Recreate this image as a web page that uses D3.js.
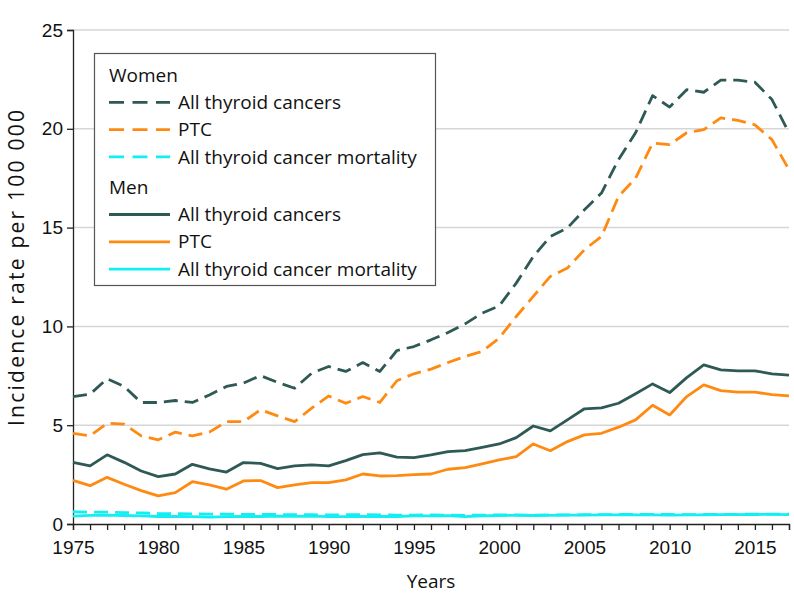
<!DOCTYPE html>
<html><head><meta charset="utf-8">
<script src="https://cdn.jsdelivr.net/npm/d3@7"></script>
<style>
body{margin:0;background:#fff;}
svg{display:block;font-family:"Open Sans","Noto Sans",sans-serif;}
</style></head>
<body><svg id="c" width="794" height="609"></svg>
<script>
const years = d3.range(1975, 2018);
const yTicks = [0, 5, 10, 15, 20, 25];
const xTicks = [1975, 1980, 1985, 1990, 1995, 2000, 2005, 2010, 2015];

const womenAll = [6.45,6.57,7.35,6.96,6.15,6.15,6.25,6.15,6.53,6.96,7.13,7.51,7.17,6.87,7.63,7.97,7.72,8.17,7.72,8.78,8.98,9.32,9.69,10.13,10.67,11.04,12.19,13.54,14.55,14.98,15.9,16.75,18.44,19.8,21.68,21.1,21.98,21.85,22.46,22.46,22.36,21.48,19.8];
const womenPTC = [4.59,4.46,5.10,5.05,4.46,4.26,4.65,4.46,4.65,5.18,5.18,5.78,5.47,5.18,5.86,6.48,6.11,6.45,6.15,7.25,7.6,7.84,8.17,8.48,8.73,9.41,10.5,11.52,12.53,12.95,13.88,14.55,16.58,17.5,19.28,19.2,19.8,19.96,20.55,20.43,20.2,19.45,17.93];
const womenMort = [0.62,0.60,0.60,0.58,0.56,0.53,0.52,0.51,0.50,0.50,0.49,0.49,0.48,0.47,0.47,0.46,0.47,0.47,0.46,0.45,0.45,0.46,0.45,0.44,0.45,0.46,0.46,0.45,0.46,0.46,0.47,0.47,0.48,0.48,0.48,0.48,0.47,0.48,0.48,0.49,0.50,0.50,0.50];
const menAll = [3.12,2.94,3.50,3.12,2.68,2.40,2.53,3.02,2.79,2.63,3.11,3.07,2.80,2.94,2.99,2.94,3.21,3.51,3.60,3.38,3.36,3.50,3.66,3.71,3.88,4.05,4.37,4.96,4.71,5.27,5.83,5.88,6.11,6.59,7.09,6.65,7.41,8.05,7.80,7.75,7.75,7.60,7.53];
const menPTC = [2.21,1.94,2.36,2.01,1.69,1.42,1.59,2.14,1.98,1.76,2.18,2.20,1.84,1.98,2.09,2.09,2.23,2.53,2.43,2.45,2.50,2.53,2.77,2.85,3.04,3.24,3.41,4.05,3.71,4.17,4.51,4.59,4.90,5.27,6.01,5.52,6.45,7.04,6.75,6.67,6.67,6.55,6.48];
const menMort = [0.40,0.44,0.45,0.43,0.41,0.38,0.38,0.37,0.35,0.37,0.38,0.38,0.40,0.39,0.40,0.37,0.37,0.38,0.39,0.38,0.41,0.41,0.42,0.37,0.41,0.43,0.44,0.43,0.44,0.45,0.45,0.46,0.46,0.46,0.46,0.45,0.46,0.46,0.47,0.47,0.48,0.49,0.47];

const seriesNames = ["All thyroid cancers", "PTC", "All thyroid cancer mortality"];
const groups = ["Women", "Men"];

const teal = "#2e5955", orange = "#ff8a12", cyan = "#12eef2";
const series = [
  {g: "Women", name: seriesNames[0], vals: womenAll, color: teal, dash: true},
  {g: "Women", name: seriesNames[1], vals: womenPTC, color: orange, dash: true},
  {g: "Women", name: seriesNames[2], vals: womenMort, color: cyan, dash: true},
  {g: "Men", name: seriesNames[0], vals: menAll, color: teal, dash: false},
  {g: "Men", name: seriesNames[1], vals: menPTC, color: orange, dash: false},
  {g: "Men", name: seriesNames[2], vals: menMort, color: cyan, dash: false}
];

const svg = d3.select("#c");
const x = d3.scaleLinear().domain([1975, 2017]).range([73, 789]);
const y = d3.scaleLinear().domain([0, 25]).range([524, 30]);
const FS = 19;

// gridlines
svg.append("g").selectAll("line").data(yTicks.filter(d => d > 0)).join("line")
  .attr("x1", 73).attr("x2", 789).attr("y1", d => y(d)).attr("y2", d => y(d))
  .attr("stroke", "#d6d6d6").attr("stroke-width", 1.5);

// y axis
const yAx = svg.append("g").attr("transform", "translate(73,0)")
  .call(d3.axisLeft(y).tickValues(yTicks).tickSize(6).tickPadding(4));
yAx.select(".domain").attr("stroke", "#222").attr("stroke-width", 1.3);
yAx.selectAll(".tick line").attr("stroke", "#222").attr("stroke-width", 1.3);
yAx.selectAll("text").attr("font-size", FS).attr("font-family", null).attr("fill", "#111");

// x axis
const xAx = svg.append("g").attr("transform", "translate(0,524)")
  .call(d3.axisBottom(x).tickValues(years).tickSize(6).tickPadding(11)
    .tickFormat(d => xTicks.includes(d) ? String(d) : ""));
xAx.select(".domain").attr("stroke", "#222").attr("stroke-width", 1.3);
xAx.selectAll(".tick line").attr("stroke", "#222").attr("stroke-width", 1.3);
xAx.selectAll("text").attr("font-size", FS).attr("font-family", null).attr("fill", "#111");

// lines (mortality drawn first beneath)
const line = d3.line().x((d, i) => x(years[i])).y(d => y(d));
const order = [2, 5, 4, 3, 1, 0];
svg.append("g").selectAll("path").data(order.map(i => series[i])).join("path")
  .attr("d", s => line(s.vals))
  .attr("fill", "none").attr("stroke", s => s.color).attr("stroke-width", 2.8)
  .attr("stroke-linejoin", "round")
  .attr("stroke-dasharray", s => s.dash ? "14,7" : null);

// legend
const lg = svg.append("g");
lg.append("rect").attr("x", 94.5).attr("y", 53.5).attr("width", 341).attr("height", 232)
  .attr("fill", "#fff").attr("stroke", "#555").attr("stroke-width", 1.2);
const rowH = 27.3;
let rowY = 75;
groups.forEach(g => {
  lg.append("text").attr("x", 109).attr("y", rowY).attr("dy", "0.35em")
    .attr("font-size", FS).attr("fill", "#111").text(g);
  rowY += rowH;
  series.filter(s => s.g === g).forEach(s => {
    lg.append("line").attr("x1", 109).attr("x2", 170).attr("y1", rowY).attr("y2", rowY)
      .attr("stroke", s.color).attr("stroke-width", 2.8)
      .attr("stroke-dasharray", s.dash ? "15,8.5" : null);
    lg.append("text").attr("x", 178).attr("y", rowY).attr("dy", "0.35em")
      .attr("font-size", FS).attr("fill", "#111").text(s.name);
    rowY += rowH;
  });
  rowY += 3;
});

// axis titles
svg.append("text").attr("x", 431).attr("y", 588).attr("text-anchor", "middle")
  .attr("font-size", FS).attr("fill", "#111").text("Years");
svg.append("text").attr("transform", "translate(24,268) rotate(-90)").attr("text-anchor", "middle")
  .attr("font-size", 21).attr("fill", "#111")
  .attr("textLength", 316).attr("lengthAdjust", "spacing")
  .text("Incidence rate per 100 000");
</script></body></html>
